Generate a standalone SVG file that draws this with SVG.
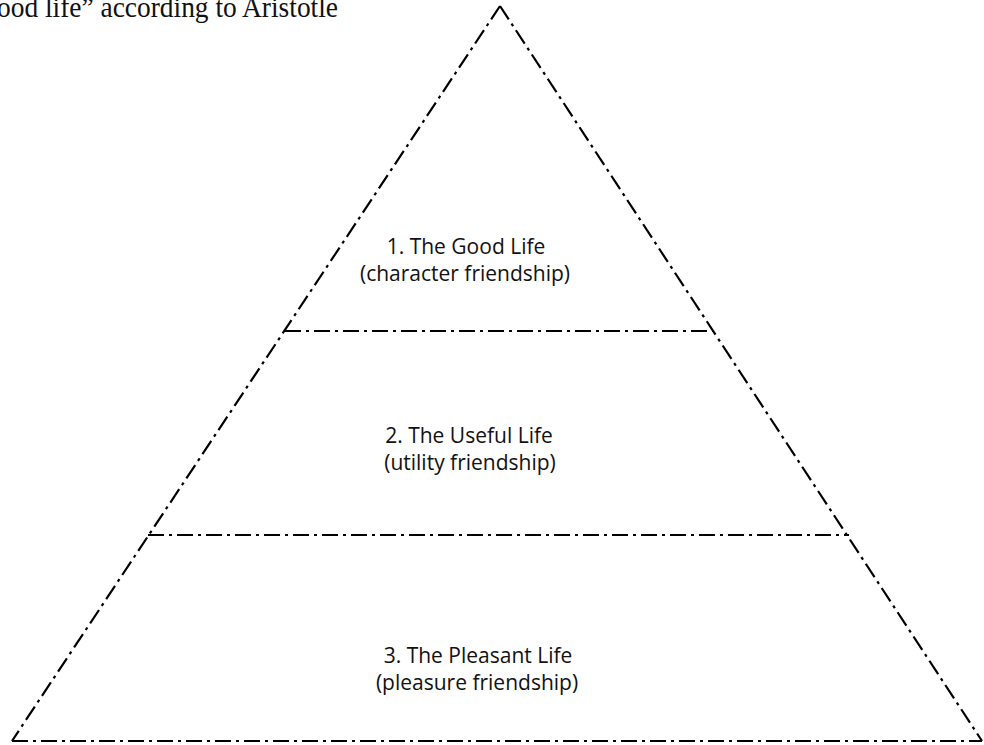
<svg xmlns="http://www.w3.org/2000/svg" width="984" height="745" viewBox="0 0 984 745">
  <style>
    .edge { fill: none; stroke: #000; stroke-width: 2.2; stroke-dasharray: 16 5 3 5; stroke-linecap: butt; }
    .lbl { font-family: "Open Sans", "Noto Sans", sans-serif; font-size: 21px; fill: #111; text-anchor: middle; }
    .title { font-family: "Liberation Serif", serif; font-size: 30px; fill: #111; }
  </style>
  <rect width="984" height="745" fill="#fff"/>
  <text class="title" x="-3" y="17" textLength="341" lengthAdjust="spacingAndGlyphs">ood life” according to Aristotle</text>
  <g id="connectors">
    <path class="edge" d="M500 6 L12 741"/>
    <path class="edge" d="M500 6 L982 741"/>
    <path class="edge" d="M12 741 L982 741"/>
    <path class="edge" d="M285 331 L713 331"/>
    <path class="edge" d="M148 535 L849 535"/>
  </g>
  <g id="tier-good">
    <text class="lbl" x="466" y="254">1. The Good Life</text>
    <text class="lbl" x="465" y="281">(character friendship)</text>
  </g>
  <g id="tier-useful">
    <text class="lbl" x="469" y="443">2. The Useful Life</text>
    <text class="lbl" x="470" y="470">(utility friendship)</text>
  </g>
  <g id="tier-pleasant">
    <text class="lbl" x="478" y="663">3. The Pleasant Life</text>
    <text class="lbl" x="477" y="690">(pleasure friendship)</text>
  </g>
</svg>
